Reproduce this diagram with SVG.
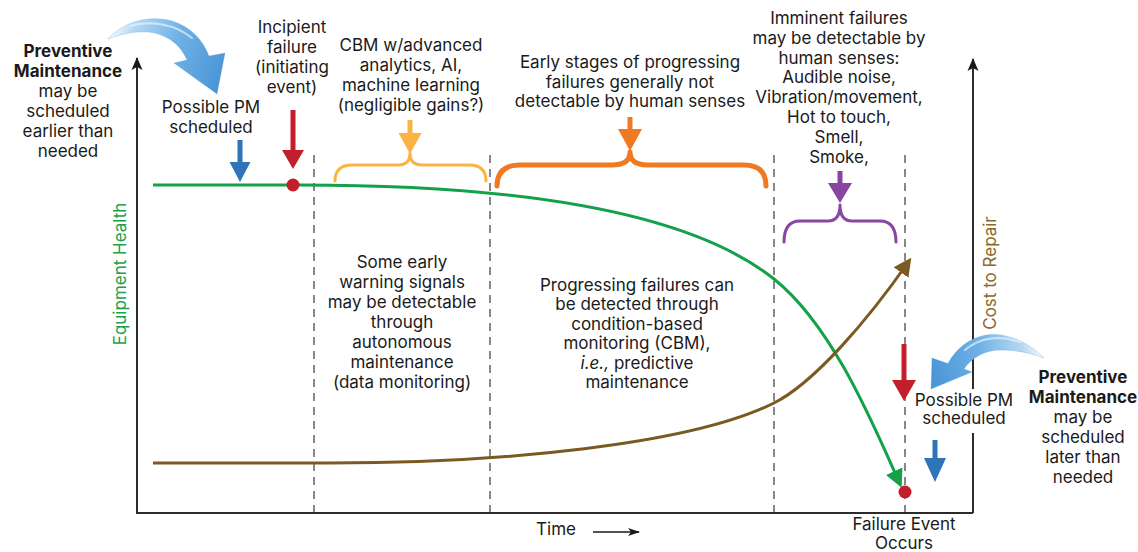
<svg xmlns="http://www.w3.org/2000/svg" width="1138" height="552" viewBox="0 0 1138 552">
  <defs>
    <style>
      .t { font-family: Inter, Roboto, "Liberation Sans", sans-serif; font-size: 17px; fill: #1a1a1a; text-anchor: middle; }
      .b { font-weight: bold; }
      .axis { stroke: #2b2b2b; stroke-width: 2; fill: none; }
      .dash { stroke: #6b6b6b; stroke-width: 1.6; stroke-dasharray: 8 6; fill: none; }
      .brace { fill: none; stroke-linecap: round; stroke-linejoin: round; }
    </style>
    <marker id="axisHead" markerUnits="userSpaceOnUse" markerWidth="14" markerHeight="12" refX="12" refY="6" orient="auto" viewBox="0 0 14 12">
      <path d="M0,0.5 L13,6 L0,11.5 L3,6 Z" fill="#1a1a1a"/>
    </marker>
    <marker id="timeHead" markerUnits="userSpaceOnUse" markerWidth="12" markerHeight="10" refX="11" refY="5" orient="auto" viewBox="0 0 12 10">
      <path d="M0,1 L12,5 L0,9 L3,5 Z" fill="#1a1a1a"/>
    </marker>
    <marker id="greenHead" markerUnits="userSpaceOnUse" markerWidth="20" markerHeight="20" refX="14" refY="9" orient="auto" viewBox="0 0 20 18">
      <path d="M0,0 L18,9 L0,18 Z" fill="#15a04a"/>
    </marker>
    <marker id="brownHead" markerUnits="userSpaceOnUse" markerWidth="20" markerHeight="20" refX="14" refY="9" orient="auto" viewBox="0 0 20 18">
      <path d="M0,0 L18,9 L0,18 Z" fill="#7a5a20"/>
    </marker>
    <linearGradient id="swooshL" gradientUnits="userSpaceOnUse" x1="106" y1="38" x2="222" y2="80">
      <stop offset="0" stop-color="#ffffff"/>
      <stop offset="0.18" stop-color="#b6d9f4"/>
      <stop offset="0.55" stop-color="#6fb1e6"/>
      <stop offset="1" stop-color="#4a95d6"/>
    </linearGradient>
    <linearGradient id="swooshR" gradientUnits="userSpaceOnUse" x1="1046" y1="358" x2="932" y2="380">
      <stop offset="0" stop-color="#ffffff"/>
      <stop offset="0.18" stop-color="#b6d9f4"/>
      <stop offset="0.55" stop-color="#6fb1e6"/>
      <stop offset="1" stop-color="#4a95d6"/>
    </linearGradient>
  </defs>

  <rect x="0" y="0" width="1138" height="552" fill="#ffffff"/>

  <!-- chart frame -->
  <g id="axes">
    <path class="axis" d="M137,513 L137,58" marker-end="url(#axisHead)"/>
    <path class="axis" d="M136,513 L973,513"/>
    <path class="axis" d="M973,513 L973,59" marker-end="url(#axisHead)"/>
  </g>

  <!-- phase boundaries -->
  <g id="phase-lines">
    <line class="dash" x1="314" y1="155" x2="314" y2="512"/>
    <line class="dash" x1="490" y1="155" x2="490" y2="512"/>
    <line class="dash" x1="774" y1="155" x2="774" y2="512"/>
    <line class="dash" x1="905" y1="155" x2="905" y2="512"/>
  </g>

  <!-- curves -->
  <g id="connectors">
    <path id="health-curve" d="M153,185 L300,185 C 520,185 690,212 774,279 C 834,327 875,429 900,484" fill="none" stroke="#15a04a" stroke-width="3" marker-end="url(#greenHead)"/>
    <path id="cost-curve" d="M153,463 L330,463 C 500,463 690,445 774,403 C 814,383 868,320 909,261" fill="none" stroke="#7a5a20" stroke-width="3" marker-end="url(#brownHead)"/>
    <path id="time-arrow" d="M593,532 L639,532" fill="none" stroke="#1a1a1a" stroke-width="1.4" marker-end="url(#timeHead)"/>
  </g>

  <!-- event markers -->
  <g id="incipient-point">
    <circle cx="293" cy="185" r="6.5" fill="#c21f2b"/>
  </g>
  <g id="failure-point">
    <circle cx="905" cy="492" r="6.5" fill="#c21f2b"/>
  </g>

  <!-- block arrows -->
  <g id="pm-early-arrow">
    <path d="M237.5,140 h5 v22 h8 l-10.5,20 l-10.5,-20 h8 z" fill="#2f73b8"/>
  </g>
  <g id="incipient-arrow">
    <path d="M290.5,110 h5 v40 h8.5 l-11,19 l-11,-19 h8.5 z" fill="#c21f2b"/>
  </g>
  <g id="cbm-arrow">
    <path d="M407.5,120 h5 v13 h9 l-11.5,21 l-11.5,-21 h9 z" fill="#fbb443"/>
  </g>
  <g id="early-stage-arrow">
    <path d="M627.5,117 h5 v12 h9.5 l-12,22 l-12,-22 h9.5 z" fill="#f07a22"/>
  </g>
  <g id="imminent-arrow">
    <path d="M837.5,171 h5 v12 h9.5 l-12,20 l-12,-20 h9.5 z" fill="#8a45a0"/>
  </g>
  <g id="pm-late-red-arrow">
    <path d="M901.5,344 h5 v36 h9.5 l-12,21 l-12,-21 h9.5 z" fill="#c21f2b"/>
  </g>
  <g id="pm-late-blue-arrow">
    <path d="M932.5,440 h5 v18 h8.5 l-11,24 l-11,-24 h8.5 z" fill="#2f73b8"/>
  </g>

  <!-- braces -->
  <g id="cbm-brace">
    <path class="brace" stroke="#fbb443" stroke-width="3" d="M335,181 Q335,165 352,165 L398,165 Q410,165 410,153 Q410,165 422,165 L469,165 Q486,165 486,181"/>
  </g>
  <g id="early-stage-brace">
    <path class="brace" stroke="#f07a22" stroke-width="5" d="M497,186 Q497,165 520,165 L612,165 Q630,165 630,152 Q630,165 648,165 L744,165 Q766,165 766,186"/>
  </g>
  <g id="imminent-brace">
    <path class="brace" stroke="#8a45a0" stroke-width="3" d="M784,242 Q784,221 800,221 L828,221 Q840,221 840,205 Q840,221 852,221 L880,221 Q896,221 896,242"/>
  </g>

  <!-- curved callout arrows -->
  <g id="pm-early-swoosh">
    <path d="M108,39 C 124,21 150,15 172,21 C 191,27 203,40 209,56 L 225,53 L 217,94 L 174,63 L 187,60 C 181,46 170,37 155,33 C 140,30 124,33 108,39 Z" fill="url(#swooshL)" stroke="#5b9fd8" stroke-width="0.6" stroke-opacity="0.5"/>
    <path d="M130,26 C 150,20 175,24 192,38" fill="none" stroke="#e6f3fc" stroke-width="2" stroke-opacity="0.7" stroke-linecap="round"/>
  </g>
  <g id="pm-late-swoosh">
    <path d="M1044,358 C 1027,340 1002,332 986,335 C 970,338 956,348 948,363.5 L 932,358 L 931,389 L 972,372 L 964,369 C 972,357 986,350 1001,350 C 1016,350 1031,353 1044,358 Z" fill="url(#swooshR)" stroke="#5b9fd8" stroke-width="0.6" stroke-opacity="0.5"/>
    <path d="M1020,342 C 1000,335 980,337 965,350" fill="none" stroke="#e6f3fc" stroke-width="2" stroke-opacity="0.7" stroke-linecap="round"/>
  </g>

  <!-- annotations -->
  <g id="label-pm-early">
    <text class="t"><tspan class="b" x="68" y="57">Preventive</tspan><tspan class="b" x="68" y="77">Maintenance</tspan><tspan x="68" y="97">may be</tspan><tspan x="68" y="117">scheduled</tspan><tspan x="68" y="137">earlier than</tspan><tspan x="68" y="157">needed</tspan></text>
  </g>
  <g id="label-possible-pm-early">
    <text class="t"><tspan x="211" y="113">Possible PM</tspan><tspan x="211" y="133">scheduled</tspan></text>
  </g>
  <g id="label-incipient">
    <text class="t"><tspan x="292" y="33">Incipient</tspan><tspan x="292" y="53">failure</tspan><tspan x="292" y="73">(initiating</tspan><tspan x="292" y="93">event)</tspan></text>
  </g>
  <g id="label-cbm-advanced">
    <text class="t"><tspan x="411" y="51">CBM w/advanced</tspan><tspan x="411" y="71">analytics, AI,</tspan><tspan x="411" y="91">machine learning</tspan><tspan x="411" y="111">(negligible gains?)</tspan></text>
  </g>
  <g id="label-early-stages">
    <text class="t"><tspan x="630" y="68">Early stages of progressing</tspan><tspan x="630" y="88">failures generally not</tspan><tspan x="630" y="107">detectable by human senses</tspan></text>
  </g>
  <g id="label-imminent">
    <text class="t"><tspan x="839" y="24">Imminent failures</tspan><tspan x="839" y="44">may be detectable by</tspan><tspan x="839" y="64">human senses:</tspan><tspan x="839" y="83">Audible noise,</tspan><tspan x="839" y="103">Vibration/movement,</tspan><tspan x="839" y="123">Hot to touch,</tspan><tspan x="839" y="143">Smell,</tspan><tspan x="839" y="163">Smoke,</tspan></text>
  </g>
  <g id="label-autonomous">
    <text class="t"><tspan x="402" y="268">Some early</tspan><tspan x="402" y="288">warning signals</tspan><tspan x="402" y="308">may be detectable</tspan><tspan x="402" y="328">through</tspan><tspan x="402" y="348">autonomous</tspan><tspan x="402" y="368">maintenance</tspan><tspan x="402" y="388">(data monitoring)</tspan></text>
  </g>
  <g id="label-predictive">
    <text class="t"><tspan x="637" y="291">Progressing failures can</tspan><tspan x="637" y="310">be detected through</tspan><tspan x="637" y="330">condition-based</tspan><tspan x="637" y="349">monitoring (CBM),</tspan><tspan x="637" y="369"><tspan font-style="italic">i.e.,</tspan> predictive</tspan><tspan x="637" y="388">maintenance</tspan></text>
  </g>
  <g id="label-possible-pm-late">
    <rect x="916" y="389" width="96" height="44" fill="#ffffff"/>
    <text class="t"><tspan x="964" y="406">Possible PM</tspan><tspan x="964" y="424">scheduled</tspan></text>
  </g>
  <g id="label-pm-late">
    <text class="t"><tspan class="b" x="1083" y="383">Preventive</tspan><tspan class="b" x="1083" y="403">Maintenance</tspan><tspan x="1083" y="423">may be</tspan><tspan x="1083" y="443">scheduled</tspan><tspan x="1083" y="463">later than</tspan><tspan x="1083" y="483">needed</tspan></text>
  </g>
  <g id="label-time">
    <text class="t" x="556" y="535">Time</text>
  </g>
  <g id="label-failure-event">
    <text class="t"><tspan x="904" y="530">Failure Event</tspan><tspan x="904" y="549">Occurs</tspan></text>
  </g>
  <g id="label-equipment-health">
    <text class="t" transform="translate(126,274) rotate(-90)" style="fill:#1ea04b">Equipment Health</text>
  </g>
  <g id="label-cost-to-repair">
    <text class="t" transform="translate(996,273) rotate(-90)" style="fill:#8b6a2b">Cost to Repair</text>
  </g>
</svg>
